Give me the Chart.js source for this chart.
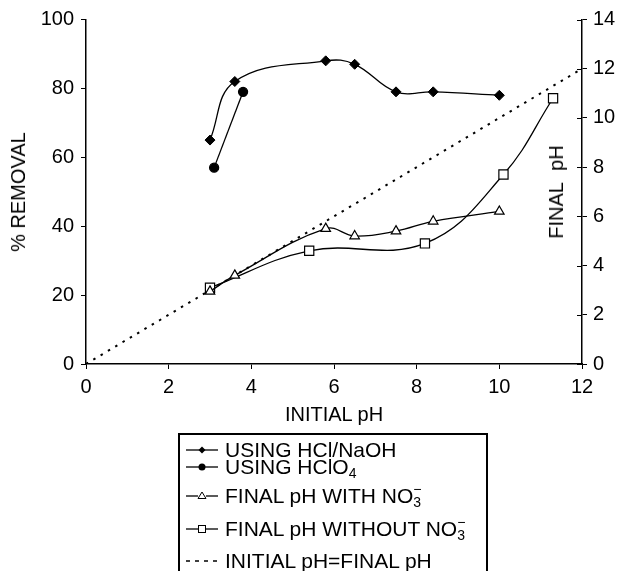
<!DOCTYPE html>
<html>
<head>
<meta charset="utf-8">
<script src="https://cdn.jsdelivr.net/npm/chart.js@4/dist/chart.umd.min.js"></script>
<style>
  html, body { margin: 0; padding: 0; background: #fff; }
  #wrap { position: relative; width: 621px; height: 571px; overflow: hidden; font-family: "Liberation Sans", Arial, sans-serif; color: #000; }
  canvas { position: absolute; left: 0; top: 0; }
  .ttl { position: absolute; font-size: 20px; white-space: nowrap; line-height: 1; }
  .rot { transform: translate(-50%, -50%) rotate(-90deg); }
  #legend { position: absolute; left: 178px; top: 433px; width: 306px; height: 160px; border: 2px solid #000; background: #fff; }
  .row { position: absolute; left: 0; height: 24px; width: 300px; }
  .row svg { position: absolute; left: 5px; top: 4px; }
  .row > span { position: absolute; left: 45px; top: 2px; font-size: 21px; white-space: nowrap; line-height: 20px; }
  .chem { display: inline-block; position: relative; width: 10px; height: 20px; vertical-align: top; font-weight: normal; }
  .chem i { font-style: normal; font-weight: normal; position: absolute; left: 0; font-size: 14px; line-height: 14px; }
</style>
</head>
<body>
<div id="wrap">
  <canvas id="c" width="621" height="571"></canvas>
  <div class="ttl rot" style="left:18px; top:192px;">% REMOVAL</div>
  <div class="ttl rot" style="left:556px; top:192px;">FINAL&nbsp;&nbsp;pH</div>
  <div class="ttl" style="left:334px; top:414px; transform: translate(-50%,-50%);">INITIAL pH</div>
  <div id="legend">
    <div class="row" style="top:3px;">
      <svg width="34" height="16"><line x1="1" y1="8" x2="33" y2="8" stroke="#000" stroke-width="1.3"/><polygon points="13.5,8 17,4.5 20.5,8 17,11.5" fill="#000"/></svg>
      <span>USING HCl/NaOH</span>
    </div>
    <div class="row" style="top:20px;">
      <svg width="34" height="16"><line x1="1" y1="8" x2="33" y2="8" stroke="#000" stroke-width="1.3"/><circle cx="17" cy="8" r="3.5" fill="#000"/></svg>
      <span>USING HClO<span class="chem"><i style="top:9px;">4</i></span></span>
    </div>
    <div class="row" style="top:49px;">
      <svg width="34" height="16"><line x1="1" y1="8" x2="13" y2="8" stroke="#000" stroke-width="1.3"/><line x1="21" y1="8" x2="33" y2="8" stroke="#000" stroke-width="1.3"/><polygon points="17,4 21,10.5 13,10.5" fill="#fff" stroke="#000" stroke-width="1"/></svg>
      <span>FINAL pH WITH NO<span class="chem"><i style="top:-4px;">&minus;</i><i style="top:9px;">3</i></span></span>
    </div>
    <div class="row" style="top:82px;">
      <svg width="34" height="16"><line x1="1" y1="8" x2="13" y2="8" stroke="#000" stroke-width="1.3"/><line x1="21" y1="8" x2="33" y2="8" stroke="#000" stroke-width="1.3"/><rect x="13.5" y="4.5" width="7" height="7" fill="#fff" stroke="#000" stroke-width="1"/></svg>
      <span>FINAL pH WITHOUT NO<span class="chem"><i style="top:-4px;">&minus;</i><i style="top:9px;">3</i></span></span>
    </div>
    <div class="row" style="top:114px;">
      <svg width="34" height="16"><line x1="1" y1="8" x2="33" y2="8" stroke="#000" stroke-width="1.5" stroke-dasharray="4,5"/></svg>
      <span>INITIAL pH=FINAL pH</span>
    </div>
  </div>
</div>
<script>
// ---- data ----
const hclInitialPh   = [3.0, 3.6, 5.8, 6.5, 7.5, 8.4, 10.0];
const hclRemoval     = [65, 82, 88, 87, 79, 79, 78];
const hclo4InitialPh = [3.1, 3.8];
const hclo4Removal   = [57, 79];
const withNo3InitialPh = [3.0, 3.6, 5.8, 6.5, 7.5, 8.4, 10.0];
const withNo3FinalPh   = [2.95, 3.6, 5.5, 5.2, 5.4, 5.8, 6.2];
const withoutNo3InitialPh = [3.0, 5.4, 8.2, 10.1, 11.3];
const withoutNo3FinalPh   = [3.1, 4.6, 4.9, 7.7, 10.8];
const equalInitialPh = [0, 12];
const equalFinalPh   = [0, 12];
const xTicks = [0, 2, 4, 6, 8, 10, 12];
const removalTicks = [0, 20, 40, 60, 80, 100];
const phTicks = [0, 2, 4, 6, 8, 10, 12, 14];

const pts = (xs, ys) => xs.map((x, i) => ({x: x, y: ys[i]}));

Chart.defaults.font.family = '"Liberation Sans", Arial, sans-serif';
Chart.defaults.font.size = 20;
Chart.defaults.color = '#000';

const innerTicks = {
  id: 'innerTicks',
  afterDraw(chart) {
    const ctx = chart.ctx, s = chart.scales.y2, a = chart.chartArea;
    ctx.save();
    ctx.strokeStyle = '#000';
    ctx.lineWidth = 1;
    s.ticks.forEach(t => {
      const y = Math.round(s.getPixelForValue(t.value)) + 0.5;
      ctx.beginPath();
      ctx.moveTo(a.right - 5, y);
      ctx.lineTo(a.right, y);
      ctx.stroke();
    });
    ctx.restore();
  }
};

const axisGrid = {drawOnChartArea: false, drawTicks: true, tickLength: 5, color: '#000', lineWidth: 1};
const axisBorder = {color: '#000', width: 1.5};

new Chart(document.getElementById('c'), {
  type: 'line',
  data: {
    datasets: [
      {label: 'USING HCl/NaOH', data: pts(hclInitialPh, hclRemoval), yAxisID: 'y',
       borderColor: '#000', borderWidth: 1.3, tension: 0.4, pointStyle: 'rectRot', pointRadius: 5,
       pointBackgroundColor: '#000', pointBorderColor: '#000', pointBorderWidth: 1},
      {label: 'USING HClO4', data: pts(hclo4InitialPh, hclo4Removal), yAxisID: 'y',
       borderColor: '#000', borderWidth: 1.3, tension: 0, pointStyle: 'circle', pointRadius: 4.5,
       pointBackgroundColor: '#000', pointBorderColor: '#000'},
      {label: 'FINAL pH WITH NO3-', data: pts(withNo3InitialPh, withNo3FinalPh), yAxisID: 'y2',
       borderColor: '#000', borderWidth: 1.3, tension: 0.4, pointStyle: 'triangle', pointRadius: 5.5,
       pointBackgroundColor: '#fff', pointBorderColor: '#000', pointBorderWidth: 1.2},
      {label: 'FINAL pH WITHOUT NO3-', data: pts(withoutNo3InitialPh, withoutNo3FinalPh), yAxisID: 'y2',
       borderColor: '#000', borderWidth: 1.3, tension: 0.4, pointStyle: 'rect', pointRadius: 6.5,
       pointBackgroundColor: '#fff', pointBorderColor: '#000', pointBorderWidth: 1.2},
      {label: 'INITIAL pH=FINAL pH', data: pts(equalInitialPh, equalFinalPh), yAxisID: 'y2',
       borderColor: '#000', borderWidth: 2, borderDash: [2.5, 6], tension: 0, pointRadius: 0}
    ]
  },
  options: {
    responsive: false,
    animation: false,
    layout: {padding: {top: 19.5, left: 0, right: 0, bottom: 0}},
    plugins: {legend: {display: false}, tooltip: {enabled: false}},
    scales: {
      x: {type: 'linear', min: 0, max: 12,
          afterBuildTicks: s => { s.ticks = xTicks.map(v => ({value: v})); },
          ticks: {padding: 6, maxRotation: 0, autoSkip: false},
          grid: axisGrid, border: axisBorder,
          afterFit: s => { s.height = 571 - 364; }},
      y: {type: 'linear', position: 'left', min: 0, max: 100,
          afterBuildTicks: s => { s.ticks = removalTicks.map(v => ({value: v})); },
          ticks: {padding: 7},
          grid: axisGrid, border: axisBorder,
          afterFit: s => { s.width = 86; }},
      y2: {type: 'linear', position: 'right', min: 0, max: 14,
          afterBuildTicks: s => { s.ticks = phTicks.map(v => ({value: v})); },
          ticks: {padding: 6},
          grid: axisGrid, border: axisBorder,
          afterFit: s => { s.width = 621 - 582; }}
    }
  },
  plugins: [innerTicks]
});
</script>
</body>
</html>
